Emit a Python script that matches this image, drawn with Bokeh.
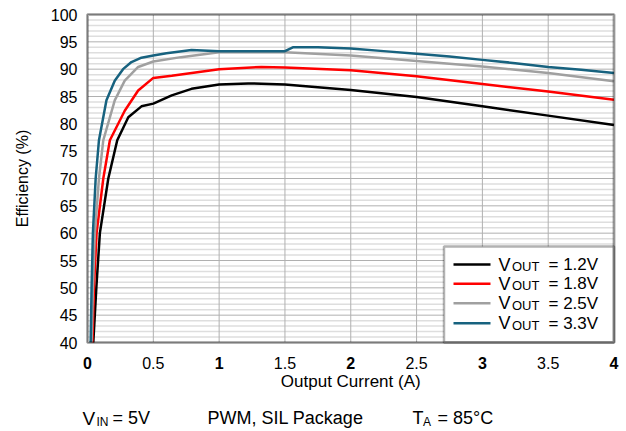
import math
from bokeh.plotting import figure
from bokeh.models import Label, BoxAnnotation, Range1d, ColumnDataSource
from bokeh.core.properties import value
from bokeh.embed import file_html
from bokeh.resources import INLINE

# ---- data ----
current_12 = [0.044, 0.067, 0.094, 0.158, 0.226, 0.31, 0.41, 0.5, 0.64, 0.79, 1.0, 1.22, 1.38, 1.5, 2.0, 2.5, 3.0, 3.5, 4.0]
eff_12 = [40, 50, 60, 70, 77, 81.2, 83.2, 83.7, 85.2, 86.4, 87.2, 87.4, 87.3, 87.2, 86.2, 84.9, 83.2, 81.5, 79.8]

current_18 = [0.037, 0.049, 0.069, 0.12, 0.17, 0.283, 0.385, 0.5, 0.64, 1.0, 1.32, 1.5, 2.0, 2.5, 3.0, 3.5, 4.0]
eff_18 = [40, 50, 60, 70, 77, 82.4, 86.1, 88.4, 88.8, 90.0, 90.4, 90.3, 89.8, 88.7, 87.3, 85.9, 84.4]

current_25 = [0.031, 0.041, 0.056, 0.087, 0.12, 0.207, 0.283, 0.385, 0.5, 0.71, 1.0, 1.25, 1.5, 2.0, 2.5, 3.0, 3.5, 4.0]
eff_25 = [40, 50, 60, 70, 77, 84.3, 87.9, 90.4, 91.4, 92.2, 93.1, 93.1, 93.1, 92.5, 91.5, 90.5, 89.3, 87.8]

current_33 = [0.024, 0.031, 0.041, 0.062, 0.087, 0.144, 0.207, 0.27, 0.334, 0.41, 0.5, 0.6, 0.79, 1.0, 1.25, 1.5, 1.56, 1.75, 2.0, 2.25, 2.5, 2.75, 3.0, 3.25, 3.5, 3.75, 4.0]
eff_33 = [40, 50, 60, 70, 77, 84.3, 87.9, 90.0, 91.3, 92.1, 92.5, 92.9, 93.5, 93.3, 93.3, 93.3, 94.0, 94.0, 93.8, 93.3, 92.8, 92.3, 91.7, 91.1, 90.4, 89.9, 89.3]

series_names = ["1.2V", "1.8V", "2.5V", "3.3V"]
series_x = [current_12, current_18, current_25, current_33]
series_y = [eff_12, eff_18, eff_25, eff_33]
series_colors = ["#000000", "#ff0000", "#a0a0a0", "#17627f"]

x_ticks = [0, 0.5, 1, 1.5, 2, 2.5, 3, 3.5, 4]
x_tick_labels = ["0", "0.5", "1", "1.5", "2", "2.5", "3", "3.5", "4"]
y_ticks = [40, 45, 50, 55, 60, 65, 70, 75, 80, 85, 90, 95, 100]
y_tick_labels = ["40", "45", "50", "55", "60", "65", "70", "75", "80", "85", "90", "95", "100"]
y_minor_ticks = [v for v in range(40, 101) if v % 5 != 0]

X_MIN, X_MAX, Y_MIN, Y_MAX = 0, 4, 40, 100
FONT = "Liberation Sans"

# ---- layout: the whole canvas is the frame; the plot box sits inside it ----
W, H = 626, 431
BOX_L, BOX_R, BOX_T, BOX_B = 87, 613.5, 14, 342   # pixel edges of the plot box
sx = (BOX_R - BOX_L) / (X_MAX - X_MIN)
sy = (BOX_B - BOX_T) / (Y_MAX - Y_MIN)
x_range = Range1d(X_MIN - BOX_L / sx, X_MAX + (W - BOX_R) / sx)
y_range = Range1d(Y_MIN - (H - BOX_B) / sy, Y_MAX + BOX_T / sy)

p = figure(width=W, height=H, x_range=x_range, y_range=y_range,
           output_backend="svg", toolbar_location=None,
           x_axis_location=None, y_axis_location=None,
           min_border=0, min_border_left=0, min_border_right=0,
           min_border_top=0, min_border_bottom=0)
p.title.visible = False
p.outline_line_color = None
p.background_fill_color = "white"
p.border_fill_color = "white"
p.xgrid.visible = False
p.ygrid.visible = False

# grid lines
p.segment(x0=[X_MIN] * len(y_minor_ticks), y0=y_minor_ticks, x1=[X_MAX] * len(y_minor_ticks), y1=y_minor_ticks,
          line_color="#dedede", line_width=1.5)
p.segment(x0=[X_MIN] * len(y_ticks), y0=y_ticks, x1=[X_MAX] * len(y_ticks), y1=y_ticks,
          line_color="#b0b0b0", line_width=1)
p.segment(x0=x_ticks, y0=[Y_MIN] * len(x_ticks), x1=x_ticks, y1=[Y_MAX] * len(x_ticks),
          line_color="#b0b0b0", line_width=1)

# curves
for xs, ys, c in zip(series_x, series_y, series_colors):
    p.line(xs, ys, line_color=c, line_width=2.5)

# plot box outline
p.add_layout(BoxAnnotation(left=X_MIN, right=X_MAX, bottom=Y_MIN, top=Y_MAX,
                           fill_alpha=0, line_color="black", line_width=3, level="overlay"))

# tick labels
ysrc = ColumnDataSource(dict(x=[X_MIN] * len(y_ticks), y=y_ticks, t=y_tick_labels))
p.text(x="x", y="y", text="t", source=ysrc, x_offset=-10, text_align="right", text_baseline="middle",
       text_font=value(FONT), text_font_size="16px", text_color="black")
is_int = [float(t).is_integer() for t in x_ticks]
xsrc_b = ColumnDataSource(dict(x=[t for t, b in zip(x_ticks, is_int) if b], y=[Y_MIN] * sum(is_int),
                               t=[l for l, b in zip(x_tick_labels, is_int) if b]))
xsrc_n = ColumnDataSource(dict(x=[t for t, b in zip(x_ticks, is_int) if not b], y=[Y_MIN] * (len(x_ticks) - sum(is_int)),
                               t=[l for l, b in zip(x_tick_labels, is_int) if not b]))
p.text(x="x", y="y", text="t", source=xsrc_b, y_offset=20.5, text_align="center", text_baseline="middle",
       text_font=value(FONT), text_font_size="16px", text_font_style="bold", text_color="black")
p.text(x="x", y="y", text="t", source=xsrc_n, y_offset=20.5, text_align="center", text_baseline="middle",
       text_font=value(FONT), text_font_size="16px", text_color="black")

# axis titles
p.text(x=[(X_MIN + X_MAX) / 2], y=[Y_MIN], text=["Output Current (A)"], y_offset=39,
       text_align="center", text_baseline="middle",
       text_font=value(FONT), text_font_size="17px", text_color="black")
p.text(x=[X_MIN], y=[(Y_MIN + Y_MAX) / 2], text=["Efficiency (%)"], x_offset=-65, angle=math.pi / 2,
       text_align="center", text_baseline="middle",
       text_font=value(FONT), text_font_size="16px", text_color="black")

# legend (screen units: y measured from bottom of canvas)
LBL_SHIFT = 5.5   # Label baseline correction

def sy_(page_y):
    return H - page_y

def sy_text(page_y):
    return H - page_y + LBL_SHIFT

p.add_layout(BoxAnnotation(left=443.5, right=BOX_R, bottom=sy_(BOX_B), top=sy_(246),
                           left_units="screen", right_units="screen",
                           bottom_units="screen", top_units="screen",
                           fill_color="white", fill_alpha=1.0,
                           line_color="black", line_width=2.5, level="annotation"))
row_centers = [264, 283.3, 302.7, 322.7]
for name, c, yc in zip(series_names, series_colors, row_centers):
    p.add_layout(BoxAnnotation(left=453, right=490, bottom=sy_(yc + 1.25), top=sy_(yc - 1.25),
                               left_units="screen", right_units="screen",
                               bottom_units="screen", top_units="screen",
                               fill_color=c, fill_alpha=1.0, line_color=None, level="overlay"))
    base = yc + 5.5
    p.add_layout(Label(x=498, y=sy_text(base), x_units="screen", y_units="screen", text="V",
                       text_font=FONT, text_font_size="18px", text_baseline="alphabetic",
                       text_color="black", level="overlay"))
    p.add_layout(Label(x=511.5, y=sy_text(base + 2), x_units="screen", y_units="screen", text="OUT",
                       text_font=FONT, text_font_size="13px", text_baseline="alphabetic",
                       text_color="black", level="overlay"))
    p.add_layout(Label(x=548, y=sy_text(base), x_units="screen", y_units="screen", text="= " + name,
                       text_font=FONT, text_font_size="17px", text_baseline="alphabetic",
                       text_color="black", level="overlay"))

# bottom caption
for txt, x, yb, size in [("V", 82, 423, "19px"), ("IN", 96, 426.5, "12px"), ("= 5V", 112, 423, "18px"),
                         ("PWM, SIL Package", 207, 423, "18px"),
                         ("T", 412, 423, "18px"), ("A", 422.5, 426.5, "12px"), ("= 85°C", 437, 423, "18px")]:
    p.add_layout(Label(x=x, y=sy_text(yb), x_units="screen", y_units="screen", text=txt,
                       text_font=FONT, text_font_size=size, text_baseline="alphabetic",
                       text_color="black", level="overlay"))

open("out.html", "w").write(file_html(p, INLINE))
